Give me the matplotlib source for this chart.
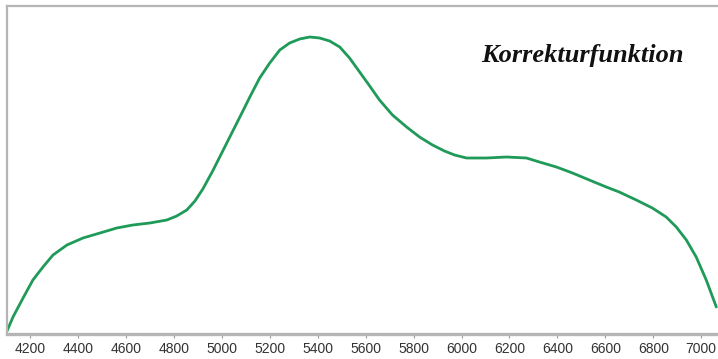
#!/usr/bin/env python3
import matplotlib
matplotlib.use('Agg')
import matplotlib.pyplot as plt

# wavelength and relative correction value (arbitrary units)
wavelength = [4104, 4129, 4171, 4212, 4254, 4296, 4354, 4421, 4492, 4562,
              4629, 4700, 4771, 4812, 4854, 4888, 4921, 4962, 5004, 5046,
              5088, 5117, 5158, 5200, 5242, 5283, 5325, 5367, 5408, 5450,
              5492, 5533, 5575, 5617, 5658, 5712, 5771, 5825, 5879, 5929,
              5971, 6021, 6104, 6188, 6271, 6325, 6396, 6463, 6533, 6604,
              6658, 6729, 6796, 6854, 6896, 6938, 6979, 7021, 7063]
korrektur = [3, 17, 36, 54, 67, 79, 89, 96, 101, 106,
             109, 111, 114, 118, 124, 133, 145, 163, 183, 203,
             223, 237, 256, 271, 284, 291, 295, 297, 296, 293,
             287, 276, 262, 248, 234, 219, 207, 197, 189, 183,
             179, 176, 176, 177, 176, 172, 167, 161, 154, 147,
             142, 134, 126, 117, 107, 94, 77, 54, 27]
ticks = list(range(4200, 7001, 200))

fig = plt.figure(figsize=(7.18, 3.59), dpi=100)
ax = fig.add_axes([7/718, 25/359, 711/718, 328/359])

ax.plot(wavelength, korrektur, color='#1f9a58', linewidth=2.0,
        solid_capstyle='round', solid_joinstyle='round')

ax.set_xlim(4104, 7070)
ax.set_ylim(0, 328)
ax.set_xticks(ticks)
ax.set_xticklabels([str(t) for t in ticks], family='Liberation Sans', fontsize=10, color='#333333')
ax.set_yticks([])
ax.tick_params(axis='x', direction='out', length=3, color='#999999', pad=3)

for s in ['left', 'top', 'bottom']:
    ax.spines[s].set_color('#b5b5b5')
    ax.spines[s].set_linewidth(1.6)
ax.spines['bottom'].set_linewidth(2.4)
ax.spines['right'].set_visible(False)

ax.text(0.952, 0.848, 'Korrekturfunktion', transform=ax.transAxes, ha='right', va='center',
        family='Liberation Serif', fontsize=19, fontweight='bold', fontstyle='italic', color='#111111')

fig.savefig('out.png', dpi=100)
